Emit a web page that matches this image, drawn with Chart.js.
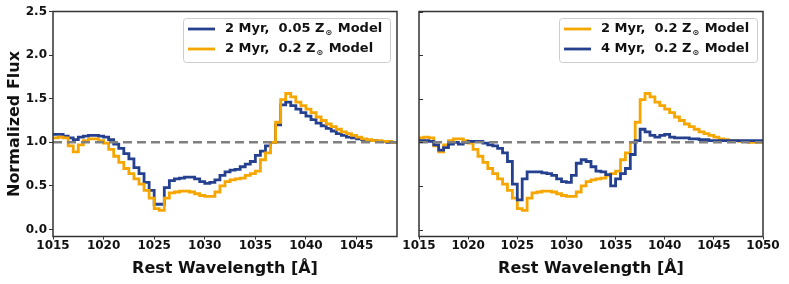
<!DOCTYPE html>
<html>
<head>
<meta charset="utf-8">
<script src="https://cdn.jsdelivr.net/npm/chart.js@4.4.1/dist/chart.umd.min.js"></script>
<style>
body { margin: 0; background: #fff; width: 789px; height: 284px; position: relative; overflow: hidden; }
canvas { position: absolute; top: 0; }
#left { left: 0; }
#right { left: 395px; }
</style>
</head>
<body>
<canvas id="left" width="408" height="284"></canvas>
<canvas id="right" width="394" height="284"></canvas>
<script>
// bin left edges, 0.5 A wide
var wavelength = [
    1015.0, 1015.5, 1016.0, 1016.5, 1017.0, 1017.5, 1018.0, 1018.5, 1019.0, 1019.5,
    1020.0, 1020.5, 1021.0, 1021.5, 1022.0, 1022.5, 1023.0, 1023.5, 1024.0, 1024.5,
    1025.0, 1025.5, 1026.0, 1026.5, 1027.0, 1027.5, 1028.0, 1028.5, 1029.0, 1029.5,
    1030.0, 1030.5, 1031.0, 1031.5, 1032.0, 1032.5, 1033.0, 1033.5, 1034.0, 1034.5,
    1035.0, 1035.5, 1036.0, 1036.5, 1037.0, 1037.5, 1038.0, 1038.5, 1039.0, 1039.5,
    1040.0, 1040.5, 1041.0, 1041.5, 1042.0, 1042.5, 1043.0, 1043.5, 1044.0, 1044.5,
    1045.0, 1045.5, 1046.0, 1046.5, 1047.0, 1047.5, 1048.0, 1048.5, 1049.0, 1049.5
];
var flux2Myr005 = [
    1.08, 1.09, 1.09, 1.07, 1.05, 1.03, 1.06, 1.07, 1.08, 1.08,
    1.07, 1.06, 1.03, 0.98, 0.93, 0.87, 0.81, 0.71, 0.64, 0.54,
    0.45, 0.29, 0.29, 0.48, 0.56, 0.58, 0.59, 0.60, 0.60, 0.58,
    0.55, 0.53, 0.54, 0.57, 0.62, 0.66, 0.68, 0.69, 0.72, 0.75,
    0.78, 0.85, 0.90, 0.96, 1.00, 1.20, 1.43, 1.46, 1.42, 1.38,
    1.34, 1.30, 1.26, 1.22, 1.19, 1.16, 1.13, 1.10, 1.08, 1.06,
    1.05, 1.04, 1.03, 1.02, 1.02, 1.01, 1.01, 1.00, 1.00, 1.00
];
var flux2Myr02 = [
    1.04, 1.05, 1.06, 1.05, 0.96, 0.89, 0.97, 1.02, 1.04, 1.04,
    1.02, 0.99, 0.92, 0.84, 0.77, 0.70, 0.64, 0.58, 0.52, 0.45,
    0.36, 0.24, 0.22, 0.36, 0.42, 0.43, 0.44, 0.44, 0.43, 0.41,
    0.39, 0.38, 0.38, 0.43, 0.50, 0.55, 0.57, 0.58, 0.59, 0.62,
    0.64, 0.67, 0.80, 0.88, 1.00, 1.23, 1.49, 1.56, 1.52, 1.46,
    1.42, 1.38, 1.34, 1.29, 1.25, 1.21, 1.18, 1.15, 1.12, 1.10,
    1.08, 1.06, 1.04, 1.03, 1.02, 1.02, 1.01, 1.01, 1.00, 1.00
];
var flux4Myr02 = [
    1.03, 1.02, 1.02, 1.01, 0.97, 0.91, 0.94, 0.98, 1.00, 0.98,
    1.00, 1.01, 1.01, 1.01, 0.99, 0.97, 0.96, 0.93, 0.88, 0.78,
    0.52, 0.34, 0.58, 0.66, 0.66, 0.66, 0.65, 0.64, 0.62, 0.58,
    0.55, 0.54, 0.62, 0.76, 0.80, 0.78, 0.72, 0.67, 0.66, 0.63,
    0.50, 0.58, 0.64, 0.70, 0.86, 1.02, 1.15, 1.12, 1.08, 1.06,
    1.08, 1.09, 1.06, 1.05, 1.05, 1.05, 1.04, 1.04, 1.03, 1.03,
    1.02, 1.02, 1.02, 1.02, 1.02, 1.02, 1.02, 1.02, 1.02, 1.02
];
var xTicks = [1015, 1020, 1025, 1030, 1035, 1040, 1045, 1050];
var yTicks = [0.0, 0.5, 1.0, 1.5, 2.0, 2.5];
var continuum = 1.0;

var BLUE = '#25408f';
var ORANGE = '#f5a600';
var FONT = "'DejaVu Sans'";

function toPoints(values) {
    var pts = wavelength.map(function (w, i) { return { x: w, y: values[i] }; });
    // close the last bin
    pts.push({ x: wavelength[wavelength.length - 1] + 0.5, y: values[values.length - 1] });
    return pts;
}

function stepSet(values, color, order) {
    return {
        data: toPoints(values),
        borderColor: color,
        borderWidth: 2.8,
        stepped: 'after',
        pointRadius: 0,
        fill: false,
        order: order
    };
}

var framePlugin = {
    id: 'frame',
    afterDatasetsDraw: function (chart, args, opts) {
        var a = chart.chartArea, c = chart.ctx;
        c.save();
        c.strokeStyle = '#333';
        c.lineWidth = 1.5;
        c.strokeRect(a.left, a.top, a.right - a.left, a.bottom - a.top);
        if (opts.innerTicks) {
            var ys = chart.scales.y;
            c.lineWidth = 1;
            yTicks.forEach(function (v) {
                var py = Math.round(ys.getPixelForValue(v)) + 0.5;
                c.beginPath();
                c.moveTo(a.left, py);
                c.lineTo(a.left + 4, py);
                c.stroke();
            });
        }
        // legend box
        var lg = opts.legend;
        c.fillStyle = 'rgba(255,255,255,0.85)';
        c.strokeStyle = '#cccccc';
        c.lineWidth = 1;
        c.beginPath();
        c.roundRect(lg.x + 0.5, lg.y + 0.5, lg.w, lg.h, 3);
        c.fill();
        c.stroke();
        lg.items.forEach(function (it, i) {
            var yy = lg.y + 11 + i * 20;
            c.strokeStyle = it.color;
            c.lineWidth = 2.8;
            c.beginPath();
            c.moveTo(lg.x + 5, yy);
            c.lineTo(lg.x + 32, yy);
            c.stroke();
            c.fillStyle = '#111';
            c.textBaseline = 'middle';
            c.font = 'bold 13px ' + FONT;
            var tx = lg.x + 42;
            c.fillText(it.pre, tx, yy);
            tx += c.measureText(it.pre).width + 1;
            c.font = 'bold 8px ' + FONT;
            c.fillText('\u2299', tx, yy + 4);
            tx += c.measureText('\u2299').width + 1;
            c.font = 'bold 13px ' + FONT;
            c.fillText(it.post, tx, yy);
        });
        c.restore();
    }
};

function makeChart(id, sets, xMax, yWidth, padRight, showYLabels, legend) {
    var ds = sets.slice();
    ds.push({
        data: [{ x: 1015, y: continuum }, { x: 1050, y: continuum }],
        borderColor: '#808080',
        borderWidth: 2.6,
        borderDash: [9, 5],
        pointRadius: 0,
        order: 0
    });
    var ctx = document.getElementById(id).getContext('2d');
    return new Chart(ctx, {
        type: 'line',
        data: { datasets: ds },
        plugins: [framePlugin],
        options: {
            responsive: false,
            animation: false,
            devicePixelRatio: 1,
            layout: { padding: { top: 11.5, right: padRight, left: 0, bottom: 0 } },
            plugins: {
                legend: { display: false },
                tooltip: { enabled: false },
                frame: { innerTicks: !showYLabels, legend: legend }
            },
            scales: {
                x: {
                    type: 'linear',
                    min: 1015,
                    max: xMax,
                    afterBuildTicks: function (s) {
                        s.ticks = xTicks.filter(function (v) { return v <= xMax; }).map(function (v) { return { value: v }; });
                    },
                    afterFit: function (s) { s.height = 47.5; },
                    border: { display: false },
                    grid: { drawOnChartArea: false, tickLength: 3, color: '#333' },
                    ticks: {
                        color: '#111', padding: 0, maxRotation: 0, autoSkip: false,
                        font: { family: FONT, size: 12, weight: 'bold', lineHeight: 1 },
                        callback: function (v) { return String(v); }
                    },
                    title: {
                        display: true, text: 'Rest Wavelength [Å]', color: '#111',
                        padding: { top: 0, bottom: 6 },
                        font: { family: FONT, size: 16, weight: 'bold' }
                    }
                },
                y: {
                    min: -0.08,
                    max: 2.5,
                    afterBuildTicks: function (s) {
                        s.ticks = yTicks.map(function (v) { return { value: v }; });
                    },
                    afterFit: function (s) { s.width = yWidth; },
                    border: { display: false },
                    grid: { drawOnChartArea: false, drawTicks: showYLabels, tickLength: 4, color: '#333' },
                    ticks: {
                        display: showYLabels, color: '#111', padding: 2,
                        font: { family: FONT, size: 12, weight: 'bold' },
                        callback: function (v) { return v.toFixed(1); }
                    },
                    title: {
                        display: showYLabels, text: 'Normalized Flux', color: '#111',
                        padding: { top: 6, bottom: 0 },
                        font: { family: FONT, size: 16, weight: 'bold', lineHeight: 1.1 }
                    }
                }
            }
        }
    });
}

makeChart('left',
    [stepSet(flux2Myr005, BLUE, 2), stepSet(flux2Myr02, ORANGE, 1)],
    1049, 53, 11, true,
    { x: 183, y: 18, w: 207, h: 44, items: [
        { color: BLUE, pre: '2 Myr,  0.05 Z', post: ' Model' },
        { color: ORANGE, pre: '2 Myr,  0.2 Z', post: ' Model' }
    ] });

makeChart('right',
    [stepSet(flux2Myr02, ORANGE, 2), stepSet(flux4Myr02, BLUE, 1)],
    1050, 24, 26, false,
    { x: 164, y: 18, w: 198, h: 44, items: [
        { color: ORANGE, pre: '2 Myr,  0.2 Z', post: ' Model' },
        { color: BLUE, pre: '4 Myr,  0.2 Z', post: ' Model' }
    ] });
</script>
</body>
</html>
